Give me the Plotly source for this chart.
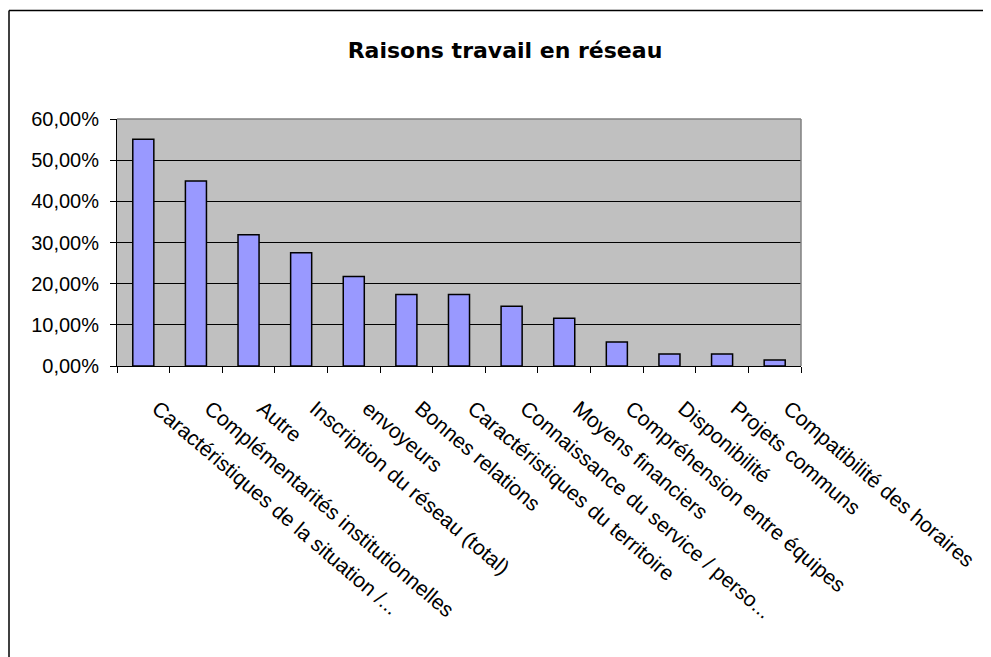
import plotly.graph_objects as go

categories = [
    "Caractéristiques de la situation /...",
    "Complémentarités institutionnelles",
    "Autre",
    "Inscription du réseau (total)",
    "envoyeurs",
    "Bonnes relations",
    "Caractéristiques du territoire",
    "Connaissance du service / perso...",
    "Moyens financiers",
    "Compréhension entre équipes",
    "Disponibilité",
    "Projets communs",
    "Compatibilité des horaires",
]
values = [0.5507, 0.4493, 0.3188, 0.2754, 0.2174, 0.1739, 0.1739,
          0.1449, 0.1159, 0.0580, 0.0290, 0.0290, 0.0145]
y_ticks = [0, 0.1, 0.2, 0.3, 0.4, 0.5, 0.6]
title_text = "Raisons travail en réseau"

# page body has an 8px margin; compensate so the plot lands where the reference has it
OFF = 8
W, H = 991 - OFF, 657 - OFF
L, T = 117 - OFF, 119 - OFF
pw, ph = 684, 247
R, B = W - L - pw, H - T - ph

def px_x(p):
    return (p - OFF - L) / pw

def px_y(p):
    return (T + ph - (p - OFF)) / ph

fig = go.Figure(go.Bar(
    x=categories, y=values,
    marker=dict(color="#9999FF", line=dict(color="black", width=1.5)),
))

fig.update_layout(
    width=W, height=H,
    margin=dict(l=L, r=R, t=T, b=B, pad=0),
    paper_bgcolor="white",
    plot_bgcolor="#C0C0C0",
    separators=", ",
    bargap=0.6,
    showlegend=False,
    font=dict(family="Liberation Sans, Arial", color="black"),
    title=dict(text=title_text, x=(505 - OFF) / W, xanchor="center",
               y=1 - (50 - OFF) / H, yanchor="middle", yref="container",
               font=dict(family="DejaVu Sans", size=22, color="black", weight="bold")),
    xaxis=dict(
        type="category", showgrid=False, showline=True, linecolor="black", linewidth=1,
        ticks="outside", ticklen=6, tickcolor="black", tickwidth=1,
        tickson="boundaries", tickangle=40.5,
        ticklabelshift=14, ticklabelstandoff=21,
        tickfont=dict(family="Liberation Sans, Arial", size=21, color="black"),
        range=[-0.5, len(categories) - 0.5],
    ),
    yaxis=dict(
        range=[0, 0.6], tickvals=y_ticks, tickformat=".2%",
        showgrid=True, gridcolor="black", gridwidth=1,
        showline=True, linecolor="black", linewidth=1,
        ticks="outside", ticklen=6, tickcolor="black", tickwidth=1,
        tickfont=dict(family="Liberation Sans, Arial", size=20, color="black"),
        ticklabelstandoff=7, zeroline=False,
    ),
    shapes=[
        dict(type="line", xref="paper", yref="paper", x0=0, x1=1, y0=1, y1=1,
             line=dict(color="#808080", width=1.5), layer="above"),
        dict(type="line", xref="paper", yref="paper", x0=1, x1=1, y0=0, y1=1,
             line=dict(color="#808080", width=1.5), layer="above"),
        dict(type="line", xref="paper", yref="paper", x0=px_x(9), x1=px_x(1000),
             y0=px_y(10.5), y1=px_y(10.5), line=dict(color="black", width=1.5)),
        dict(type="line", xref="paper", yref="paper", x0=px_x(9), x1=px_x(9),
             y0=px_y(10.5), y1=px_y(700), line=dict(color="black", width=1.5)),
    ],
)

fig.write_html("out.html")
